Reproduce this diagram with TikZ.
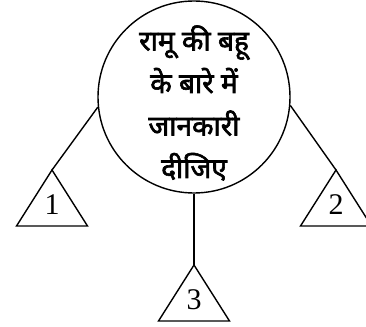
\documentclass[tikz,border=0pt]{standalone}
\usepackage{fontspec}
\setmainfont{Liberation Serif}
\newfontfamily\devfont[Script=Devanagari,FakeBold=2.2]{Noto Sans}
\usetikzlibrary{positioning,calc}
\tikzset{
  topic/.style={circle,draw,line width=1.4pt,minimum size=192pt,inner sep=0pt},
  topictext/.style={align=center,inner sep=0pt,font=\devfont\fontsize{28}{42.5}\selectfont},
  leaf/.style={draw,line width=1.4pt,line join=miter},
  num/.style={inner sep=0pt,font=\fontsize{30}{32}\selectfont},
  link/.style={line width=1.4pt},
}

\begin{document}
\begin{tikzpicture}[x=1pt,y=-1pt]
  \useasboundingbox (0,0) rectangle (366,326);
  % central circle
  \node[topic] (Q) at (194,97) {};
  \node[topictext] (T) at ($(Q)+(0,6)$) {रामू की बहू\\के बारे में\\जानकारी\\दीजिए};
  % apexes of the three triangles
  \coordinate (A1) at (52,170);
  \coordinate (A2) at (336,170);
  \coordinate (A3) at (194,265);
  \foreach \a in {A1,A2,A3}
    \draw[leaf] (\a) -- ++(-35.5,56) -- ++(71,0) -- cycle;
  \node[num] (N1) at ($(A1)+(0,35)$) {1};
  \node[num] (N2) at ($(A2)+(0,35)$) {2};
  \node[num] (N3) at ($(A3)+(0,35)$) {3};
  % connectors
  \draw[link] (Q.186) -- (A1);
  \draw[link] (Q.355) -- (A2);
  \draw[link] (Q.south) -- (A3);
\end{tikzpicture}
\end{document}
